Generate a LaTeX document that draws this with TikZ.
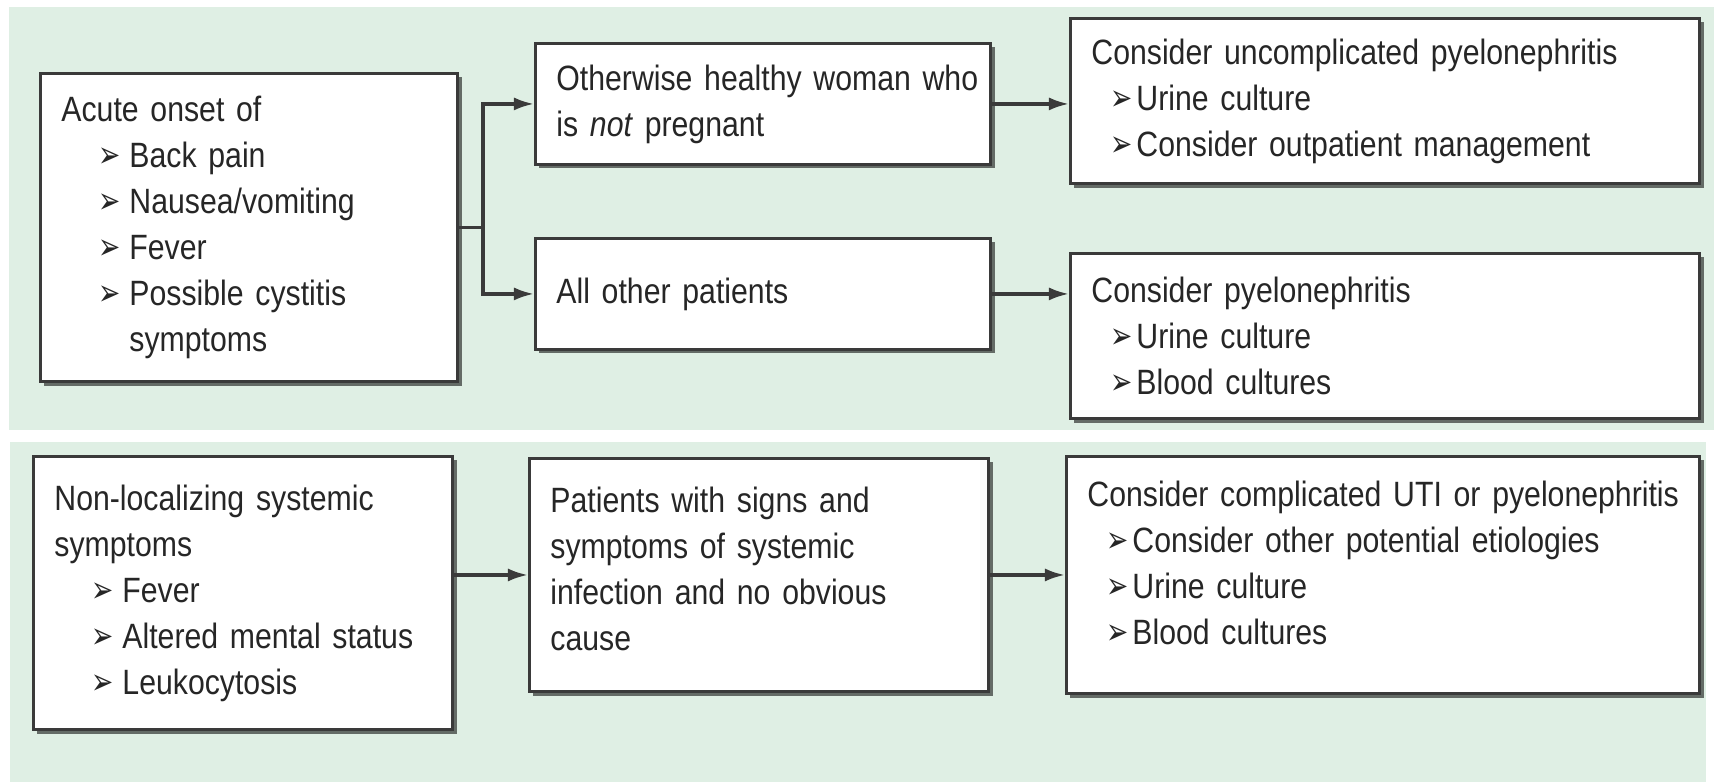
\documentclass[tikz,border=0pt]{standalone}
\usepackage{fontspec}
\setmainfont{Liberation Sans}[FakeStretch=0.86, WordSpace=0.9]
\newfontfamily\dingfont{DejaVu Sans}
\usetikzlibrary{arrows.meta,shadows}
\hyphenpenalty=10000

\definecolor{panelgreen}{RGB}{223,239,228}
\definecolor{boxline}{RGB}{58,58,58}

% bullet marks, deep and shallow indent
\newcommand{\arrowmark}{\scalebox{0.72}[1]{\dingfont\fontsize{10.5pt}{10pt}\selectfont ➢}}
\newcommand{\deepitem}[1]{\hspace*{0.37cm}\makebox[0.31cm][l]{\arrowmark}#1}
\newcommand{\flatitem}[1]{\hspace*{0.19cm}\makebox[0.26cm][l]{\arrowmark}#1}

\begin{document}
\begin{tikzpicture}[x=0.01cm, y=-0.01cm,
  box/.style = {shape=rectangle, draw=boxline, line width=0.8pt,
    fill=white, anchor=north west, align=left,
    inner xsep=0.12cm, inner ysep=0pt, text=black!85,
    font=\fontsize{10pt}{0.46cm}\selectfont,
    execute at begin node={\leftskip=0.09cm\rightskip=-0.3cm plus 1fil\relax},
    drop shadow={shadow xshift=0.04cm, shadow yshift=-0.04cm,
      fill=black, opacity=.55}},
  raised/.style = {execute at end node={\endgraf\vspace*{#1}}},
  conn/.style = {draw=boxline, line width=0.9pt},
  arr/.style = {conn, -{Latex[length=0.2cm, width=0.13cm]}}]
  \useasboundingbox (0,0) rectangle (1723,782);
  \fill[white] (0,0) rectangle (1723,782);
  \fill[panelgreen] (9,7) rectangle (1714,430);
  \fill[panelgreen] (10,442) rectangle (1706,782);

  % upper panel
  \node[box, text width=3.93cm, minimum height=3.08cm] (onset) at (39,72)
    {Acute onset of\\
     \deepitem{Back pain}\\
     \deepitem{Nausea/vomiting}\\
     \deepitem{Fever}\\
     \deepitem{Possible cystitis}\\
     \hspace*{0.68cm}symptoms};
  \node[box, text width=4.31cm, minimum height=1.21cm] (healthy) at (534,42)
    {Otherwise healthy woman who\\
     is \textit{not} pregnant};
  \node[box, text width=4.31cm, minimum height=1.11cm] (others) at (534,237)
    {All other patients};
  \node[box, text width=6.05cm, minimum height=1.65cm] (uncompl) at (1069,17)
    {Consider uncomplicated pyelonephritis\\
     \flatitem{Urine culture}\\
     \flatitem{Consider outpatient management}};
  \node[box, text width=6.05cm, minimum height=1.65cm] (pyelo) at (1069,252)
    {Consider pyelonephritis\\
     \flatitem{Urine culture}\\
     \flatitem{Blood cultures}};

  % lower panel
  \node[box, text width=3.95cm, minimum height=2.73cm] (systemic) at (32,455)
    {Non-localizing systemic\\
     symptoms\\
     \deepitem{Fever}\\
     \deepitem{Altered mental status}\\
     \deepitem{Leukocytosis}};
  \node[box, raised=0.12cm, text width=4.35cm, minimum height=2.33cm] (signs) at (528,457)
    {Patients with signs and\\
     symptoms of systemic\\
     infection and no obvious\\
     cause};
  \node[box, raised=0.24cm, text width=6.09cm, minimum height=2.37cm] (compl) at (1065,455)
    {Consider complicated UTI or pyelonephritis\\
     \flatitem{Consider other potential etiologies}\\
     \flatitem{Urine culture}\\
     \flatitem{Blood cultures}};

  % connectors
  \draw[conn] (onset.east) -- ++(24,0) coordinate (split);
  \draw[arr] (split) |- (healthy.west);
  \draw[arr] (split) |- (others.west);
  \draw[arr] (healthy.east) -- (healthy.east -| uncompl.west);
  \draw[arr] (others.east) -- (others.east -| pyelo.west);
  \draw[arr] (signs.west -| systemic.east) -- (signs.west);
  \draw[arr] (signs.east) -- (signs.east -| compl.west);
\end{tikzpicture}
\end{document}
